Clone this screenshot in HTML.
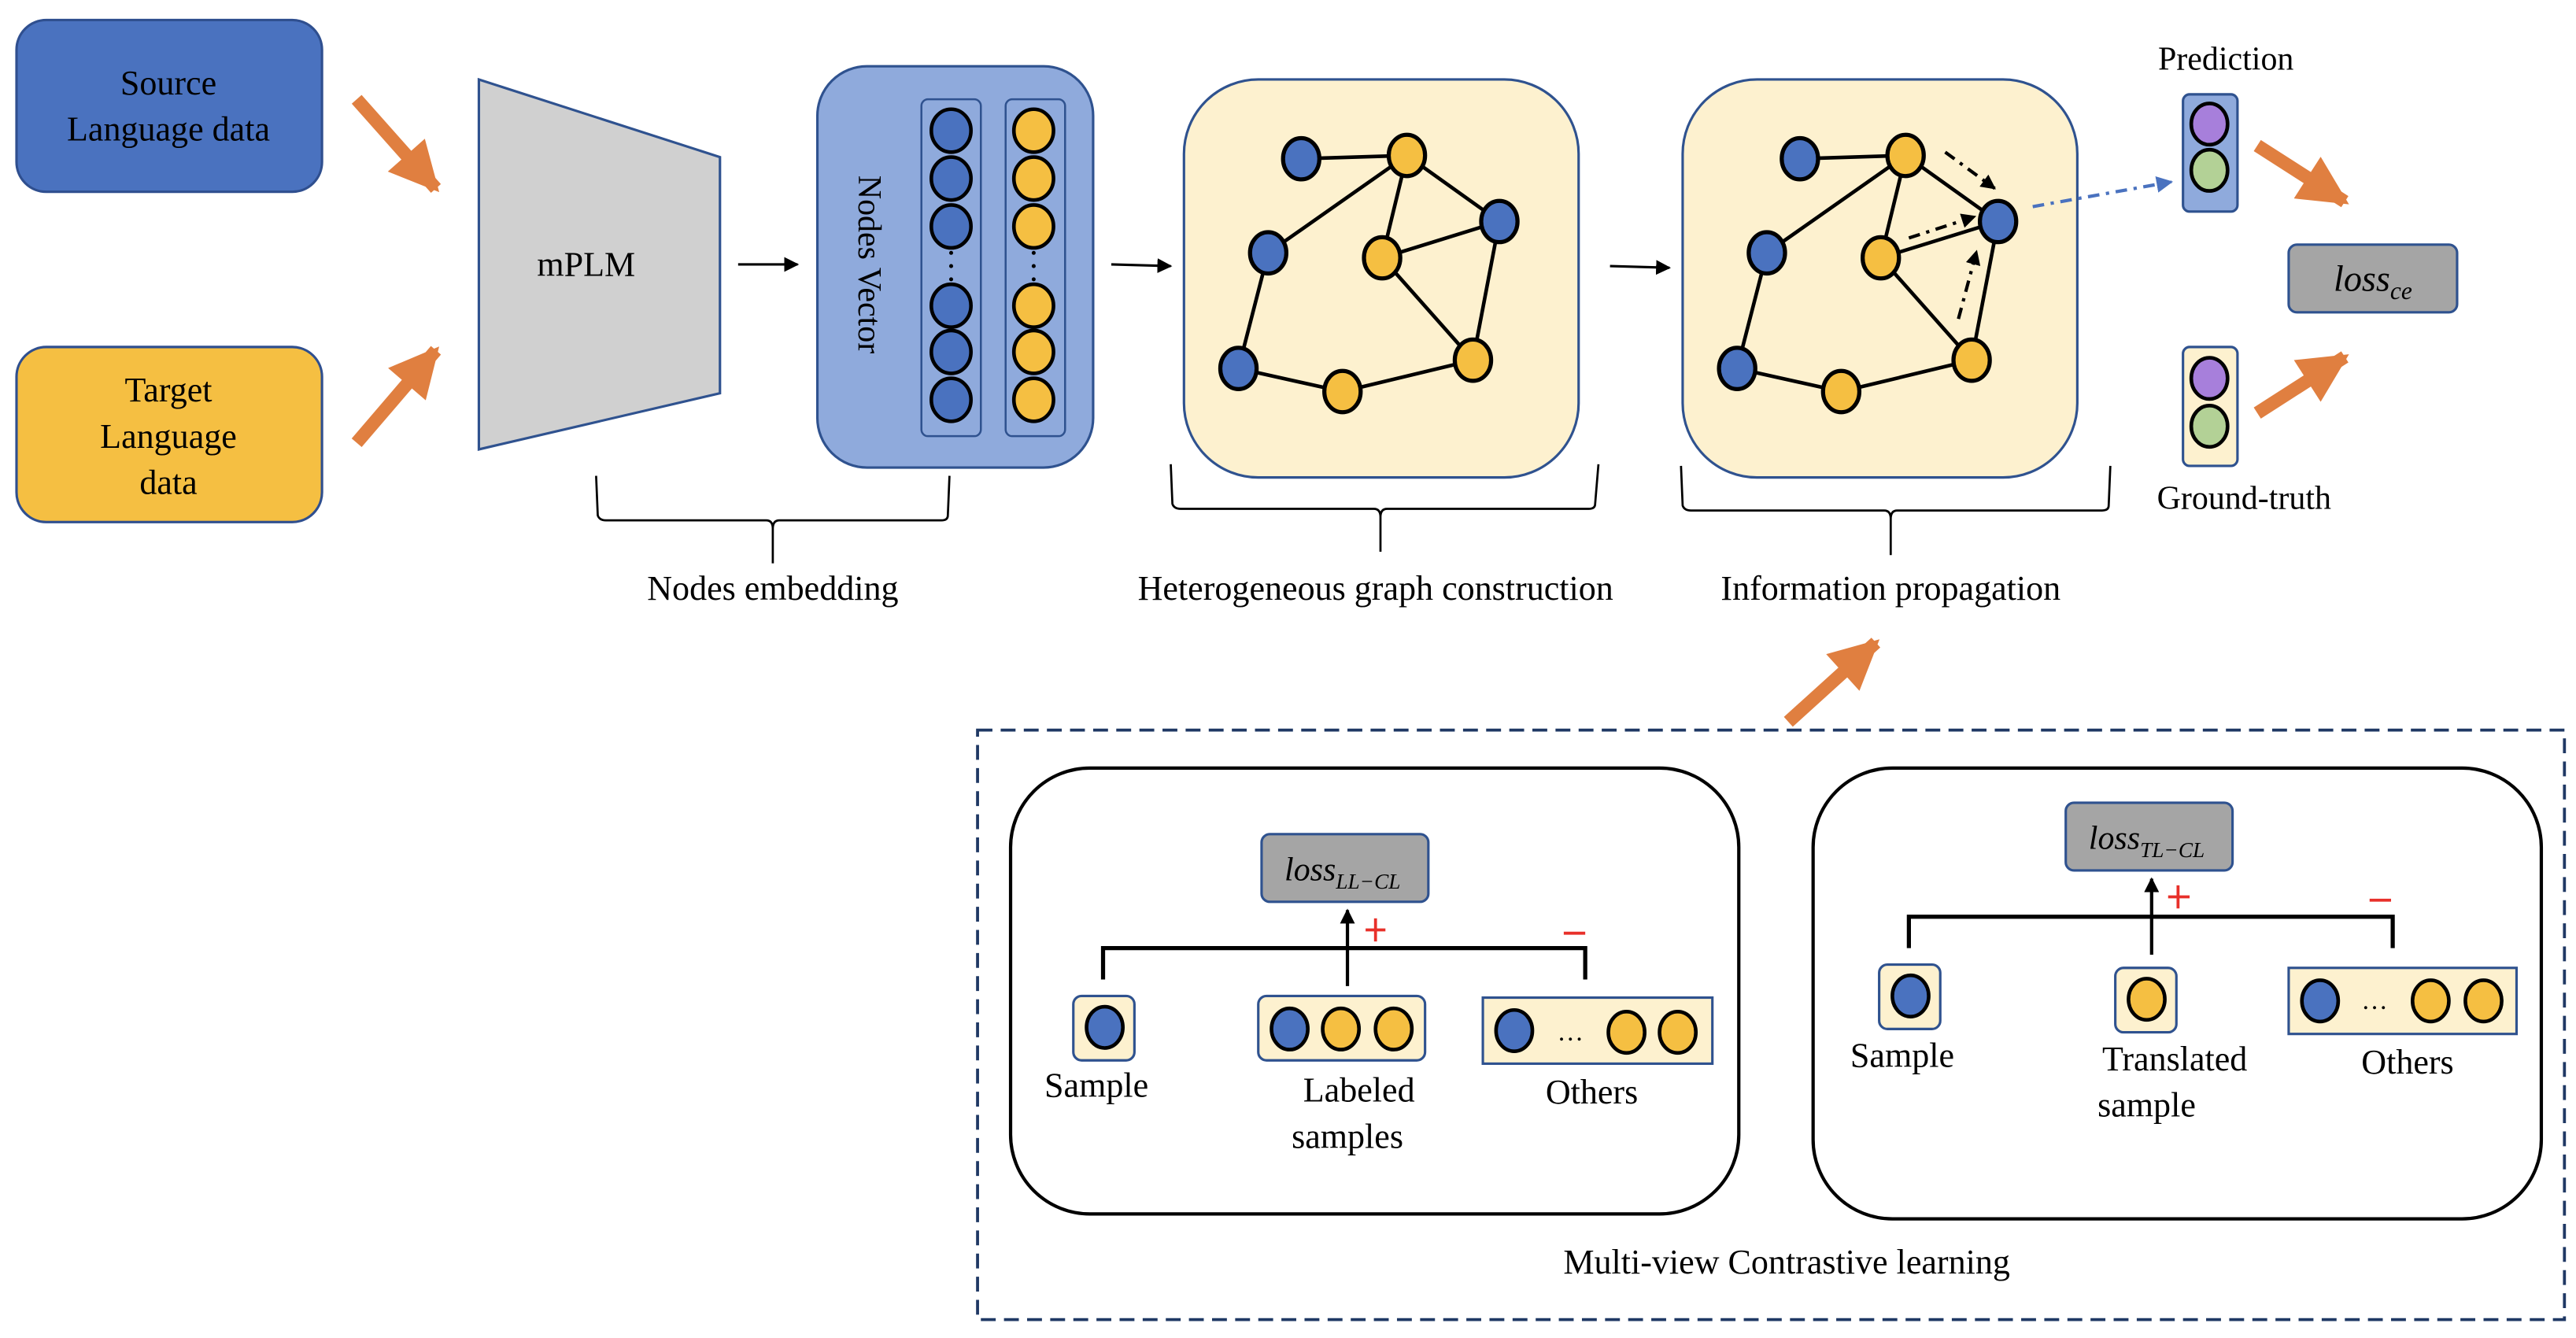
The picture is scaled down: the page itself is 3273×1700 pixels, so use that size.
<!DOCTYPE html>
<html><head><meta charset="utf-8"><style>
html,body{margin:0;padding:0;background:#fff}
svg{display:block}
text{font-family:"Liberation Serif",serif;fill:#000}
</style></head><body>
<svg width="3273" height="1700" viewBox="0 0 1560 810" xmlns="http://www.w3.org/2000/svg">
<defs>
<marker id="oa" viewBox="0 0 10 10" refX="9" refY="5" markerWidth="34" markerHeight="30" markerUnits="userSpaceOnUse" orient="auto"><path d="M0,0 L10,5 L0,10 z" fill="#e07f40"/></marker>
<marker id="ka" viewBox="0 0 10 10" refX="9" refY="5" markerWidth="9" markerHeight="9" markerUnits="userSpaceOnUse" orient="auto"><path d="M0,0 L10,5 L0,10 z" fill="#000"/></marker>
<marker id="ba" viewBox="0 0 10 10" refX="9" refY="5" markerWidth="10" markerHeight="10" markerUnits="userSpaceOnUse" orient="auto"><path d="M0,0 L10,5 L0,10 z" fill="#4a72bf"/></marker>
</defs>

<!-- input boxes -->
<rect x="10" y="12" width="185" height="104" rx="18" fill="#4a72bf" stroke="#2f4f8f" stroke-width="1.5"/>
<text x="102" y="57" font-size="21" text-anchor="middle">Source</text>
<text x="102" y="85" font-size="21" text-anchor="middle">Language data</text>
<rect x="10" y="210" width="185" height="106" rx="18" fill="#f5bf42" stroke="#2f4f8f" stroke-width="1.5"/>
<text x="102" y="243" font-size="21" text-anchor="middle">Target</text>
<text x="102" y="271" font-size="21" text-anchor="middle">Language</text>
<text x="102" y="299" font-size="21" text-anchor="middle">data</text>

<g stroke="#e07f40" stroke-width="8" fill="none">
<line x1="216" y1="60" x2="264" y2="114" marker-end="url(#oa)"/>
<line x1="216" y1="268" x2="264" y2="212" marker-end="url(#oa)"/>
<line x1="1367" y1="88" x2="1420" y2="122" marker-end="url(#oa)"/>
<line x1="1367" y1="250" x2="1420" y2="216" marker-end="url(#oa)"/>
<line x1="1083" y1="437" x2="1136" y2="389" marker-end="url(#oa)"/>
</g>

<!-- mPLM -->
<polygon points="290,48 436,95 436,238 290,272" fill="#d0d0d0" stroke="#2f528f" stroke-width="1.5"/>
<text x="355" y="167" font-size="21" text-anchor="middle">mPLM</text>

<g stroke="#000" stroke-width="1.5">
<line x1="447" y1="160" x2="483" y2="160" marker-end="url(#ka)"/>
<line x1="673" y1="160" x2="709" y2="161" marker-end="url(#ka)"/>
<line x1="975" y1="161" x2="1011" y2="162" marker-end="url(#ka)"/>
</g>

<!-- Nodes vector -->
<rect x="495" y="40" width="167" height="243" rx="30" fill="#8faadc" stroke="#2f528f" stroke-width="1.5"/>
<text transform="translate(520,160) rotate(90)" font-size="20" text-anchor="middle" font-family="Liberation Sans, sans-serif">Nodes Vector</text>
<rect x="558" y="60" width="36" height="204" rx="4" fill="#8faadc" stroke="#2f528f" stroke-width="1.2"/>
<rect x="609" y="60" width="36" height="204" rx="4" fill="#8faadc" stroke="#2f528f" stroke-width="1.2"/>
<g stroke="#000" stroke-width="2.2">
<g fill="#4a72bf">
<ellipse cx="576" cy="79" rx="12" ry="13"/><ellipse cx="576" cy="108" rx="12" ry="13"/><ellipse cx="576" cy="137" rx="12" ry="13"/>
<ellipse cx="576" cy="185" rx="12" ry="13"/><ellipse cx="576" cy="213" rx="12" ry="13"/><ellipse cx="576" cy="242" rx="12" ry="13"/>
</g>
<g fill="#f5bf42">
<ellipse cx="626" cy="79" rx="12" ry="13"/><ellipse cx="626" cy="108" rx="12" ry="13"/><ellipse cx="626" cy="137" rx="12" ry="13"/>
<ellipse cx="626" cy="185" rx="12" ry="13"/><ellipse cx="626" cy="213" rx="12" ry="13"/><ellipse cx="626" cy="242" rx="12" ry="13"/>
</g>
</g>
<g fill="#000"><circle cx="576" cy="153" r="1.2"/><circle cx="576" cy="161" r="1.2"/><circle cx="576" cy="169" r="1.2"/>
<circle cx="626" cy="153" r="1.2"/><circle cx="626" cy="161" r="1.2"/><circle cx="626" cy="169" r="1.2"/></g>

<!-- graph 1 -->
<rect x="717" y="48" width="239" height="241" rx="45" fill="#fdf1cf" stroke="#2f528f" stroke-width="1.5"/>
<g id="g1">
<g stroke="#000" stroke-width="2.2">
<line x1="788" y1="96" x2="852" y2="94"/><line x1="852" y1="94" x2="768" y2="153"/><line x1="852" y1="94" x2="837" y2="156"/>
<line x1="852" y1="94" x2="908" y2="134"/><line x1="837" y1="156" x2="908" y2="134"/><line x1="768" y1="153" x2="750" y2="223"/>
<line x1="750" y1="223" x2="813" y2="237"/><line x1="813" y1="237" x2="892" y2="218"/><line x1="837" y1="156" x2="892" y2="218"/>
<line x1="908" y1="134" x2="892" y2="218"/>
</g>
<g stroke="#000" stroke-width="2.5">
<ellipse cx="788" cy="96" rx="11" ry="12.5" fill="#4a72bf"/><ellipse cx="852" cy="94" rx="11" ry="12.5" fill="#f5bf42"/>
<ellipse cx="908" cy="134" rx="11" ry="12.5" fill="#4a72bf"/><ellipse cx="768" cy="153" rx="11" ry="12.5" fill="#4a72bf"/>
<ellipse cx="837" cy="156" rx="11" ry="12.5" fill="#f5bf42"/><ellipse cx="750" cy="223" rx="11" ry="12.5" fill="#4a72bf"/>
<ellipse cx="813" cy="237" rx="11" ry="12.5" fill="#f5bf42"/><ellipse cx="892" cy="218" rx="11" ry="12.5" fill="#f5bf42"/>
</g>
</g>

<!-- graph 2 -->
<rect x="1019" y="48" width="239" height="241" rx="45" fill="#fdf1cf" stroke="#2f528f" stroke-width="1.5"/>
<use href="#g1" transform="translate(302,0)"/>
<g stroke="#000" stroke-width="2" stroke-dasharray="7,4,2,4" fill="none">
<line x1="1178" y1="92" x2="1208" y2="114" marker-end="url(#ka)"/>
<line x1="1156" y1="144" x2="1196" y2="131" marker-end="url(#ka)"/>
<line x1="1186" y1="193" x2="1197" y2="152" marker-end="url(#ka)"/>
</g>
<line x1="1231" y1="125" x2="1315" y2="110" stroke="#4a72bf" stroke-width="2" stroke-dasharray="7,4,2,4" marker-end="url(#ba)"/>

<!-- prediction / gt -->
<text x="1348" y="42" font-size="20" text-anchor="middle">Prediction</text>
<rect x="1322" y="57" width="33" height="71" rx="4" fill="#8faadc" stroke="#2f528f" stroke-width="1.5"/>
<rect x="1322" y="210" width="33" height="72" rx="4" fill="#fdf1cf" stroke="#2f528f" stroke-width="1.5"/>
<g stroke="#000" stroke-width="2.2">
<ellipse cx="1338" cy="75" rx="11" ry="12.5" fill="#a77fdb"/><ellipse cx="1338" cy="103" rx="11" ry="12.5" fill="#b3d196"/>
<ellipse cx="1338" cy="229" rx="11" ry="12.5" fill="#a77fdb"/><ellipse cx="1338" cy="258" rx="11" ry="12.5" fill="#b3d196"/>
</g>
<text x="1359" y="308" font-size="20" text-anchor="middle">Ground-truth</text>
<rect x="1386" y="148" width="102" height="41" rx="5" fill="#a5a5a5" stroke="#2f528f" stroke-width="1.5"/>
<text x="1437" y="176" font-size="22" text-anchor="middle" font-style="italic" font-family="DejaVu Serif, serif">loss<tspan font-size="15" dy="5">ce</tspan></text>

<!-- braces -->
<g stroke="#000" stroke-width="1.3" fill="none">
<path d="M361,288 L362,312 Q363,315 367,315 L464,315 Q468,315 468,320 L468,341 M468,320 Q468,315 472,315 L570,315 Q574,315 574,312 L575,288"/>
<path d="M709,281 L710,305 Q711,308 715,308 L832,308 Q836,308 836,313 L836,334 M836,313 Q836,308 840,308 L962,308 Q966,308 966,305 L968,281"/>
<path d="M1018,282 L1019,306 Q1020,309 1024,309 L1141,309 Q1145,309 1145,314 L1145,336 M1145,314 Q1145,309 1149,309 L1273,309 Q1277,309 1277,306 L1278,282"/>
</g>
<text x="468" y="363" font-size="21" text-anchor="middle">Nodes embedding</text>
<text x="833" y="363" font-size="21" text-anchor="middle">Heterogeneous graph construction</text>
<text x="1145" y="363" font-size="21" text-anchor="middle">Information propagation</text>

<!-- contrastive -->
<rect x="592" y="442" width="961" height="357" fill="none" stroke="#1f3864" stroke-width="1.8" stroke-dasharray="9,5"/>
<rect x="612" y="465" width="441" height="270" rx="48" fill="none" stroke="#000" stroke-width="2"/>
<rect x="1098" y="465" width="441" height="273" rx="48" fill="none" stroke="#000" stroke-width="2"/>

<rect x="764" y="505" width="101" height="41" rx="5" fill="#a5a5a5" stroke="#2f528f" stroke-width="1.5"/>
<text x="813" y="533" font-size="20" text-anchor="middle" font-style="italic" font-family="DejaVu Serif, serif">loss<tspan font-size="13" dy="5">LL−CL</tspan></text>
<rect x="1251" y="486" width="101" height="41" rx="5" fill="#a5a5a5" stroke="#2f528f" stroke-width="1.5"/>
<text x="1300" y="514" font-size="20" text-anchor="middle" font-style="italic" font-family="DejaVu Serif, serif">loss<tspan font-size="13" dy="5">TL−CL</tspan></text>

<g stroke="#000" fill="none">
<path d="M668,593 L668,574 L960,574 L960,593" stroke-width="2.5"/>
<line x1="816" y1="597" x2="816" y2="551" stroke-width="2" marker-end="url(#ka)"/>
<path d="M1156,574 L1156,555 L1449,555 L1449,574" stroke-width="2.5"/>
<line x1="1303" y1="578" x2="1303" y2="532" stroke-width="2" marker-end="url(#ka)"/>
</g>
<g stroke="#e8302a" stroke-width="1.8">
<line x1="827" y1="563" x2="839" y2="563"/><line x1="833" y1="556" x2="833" y2="570"/>
<line x1="947" y1="565" x2="960" y2="565"/>
<line x1="1313" y1="543" x2="1326" y2="543"/><line x1="1319" y1="536" x2="1319" y2="550"/>
<line x1="1435" y1="545" x2="1448" y2="545"/>
</g>

<g stroke="#2f528f" stroke-width="1.5" fill="#fdf1cf">
<rect x="650" y="603" width="37" height="39" rx="5"/>
<rect x="762" y="603" width="101" height="39" rx="5"/>
<rect x="898" y="604" width="139" height="40"/>
<rect x="1138" y="584" width="37" height="39" rx="5"/>
<rect x="1281" y="586" width="37" height="39" rx="5"/>
<rect x="1386" y="586" width="138" height="40"/>
</g>
<g stroke="#000" stroke-width="2.2">
<ellipse cx="669" cy="622" rx="11" ry="12.5" fill="#4a72bf"/>
<ellipse cx="781" cy="623" rx="11" ry="12.5" fill="#4a72bf"/><ellipse cx="812" cy="623" rx="11" ry="12.5" fill="#f5bf42"/><ellipse cx="844" cy="623" rx="11" ry="12.5" fill="#f5bf42"/>
<ellipse cx="917" cy="624" rx="11" ry="12.5" fill="#4a72bf"/><ellipse cx="985" cy="625" rx="11" ry="12.5" fill="#f5bf42"/><ellipse cx="1016" cy="625" rx="11" ry="12.5" fill="#f5bf42"/>
<ellipse cx="1157" cy="603" rx="11" ry="12.5" fill="#4a72bf"/>
<ellipse cx="1300" cy="605" rx="11" ry="12.5" fill="#f5bf42"/>
<ellipse cx="1405" cy="606" rx="11" ry="12.5" fill="#4a72bf"/><ellipse cx="1472" cy="606" rx="11" ry="12.5" fill="#f5bf42"/><ellipse cx="1504" cy="606" rx="11" ry="12.5" fill="#f5bf42"/>
</g>
<text x="951" y="630" font-size="16" text-anchor="middle">…</text>
<text x="1438" y="611" font-size="16" text-anchor="middle">…</text>

<g font-size="21" text-anchor="middle">
<text x="664" y="664">Sample</text>
<text x="823" y="667">Labeled</text>
<text x="816" y="695">samples</text>
<text x="964" y="668">Others</text>
<text x="1152" y="646">Sample</text>
<text x="1317" y="648">Translated</text>
<text x="1300" y="676">sample</text>
<text x="1458" y="650">Others</text>
<text x="1082" y="771">Multi-view Contrastive learning</text>
</g>
</svg>
</body></html>
